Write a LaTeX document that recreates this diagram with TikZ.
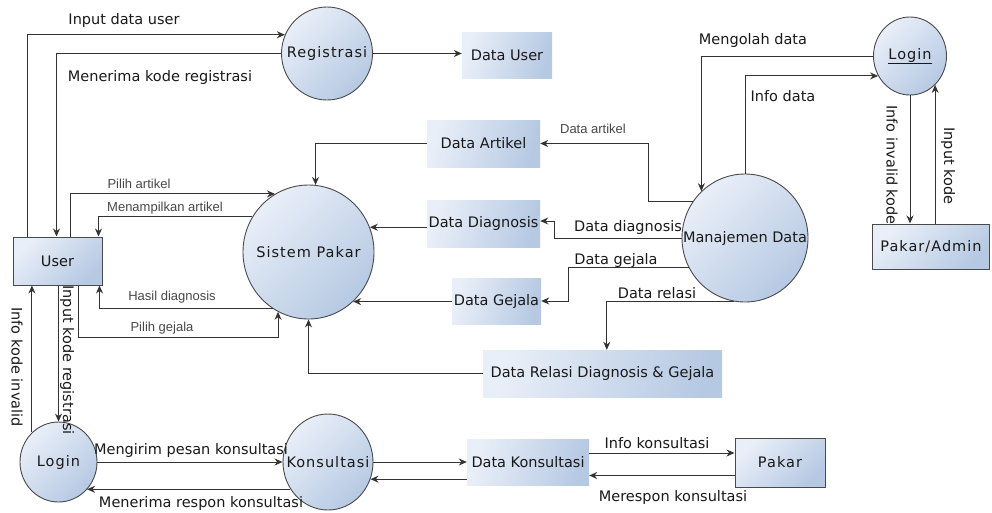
\documentclass[tikz,border=0pt]{standalone}
\usepackage{fontspec}
\setmainfont{DejaVu Sans}
\newfontfamily\spc[LetterSpace=7]{DejaVu Sans}
\newfontfamily\sml{Liberation Sans}
\usetikzlibrary{arrows.meta,shapes.geometric,calc}
\definecolor{lightc}{HTML}{E9EFF8}
\definecolor{darkc}{HTML}{B6C9E3}
\definecolor{linec}{HTML}{333333}
\definecolor{bordc}{HTML}{4A4A4A}
\begin{document}
\begin{tikzpicture}[x=1pt,y=-1pt,
  every node/.style={font=\fontsize{14.5}{17}\selectfont, text=black!90},
  proc/.style={ellipse, draw=bordc, line width=0.9pt, top color=lightc, bottom color=darkc, shading angle=45, inner sep=0pt},
  store/.style={rectangle, top color=lightc, bottom color=darkc, shading angle=75, inner sep=0pt},
  ent/.style={rectangle, draw=bordc, line width=1pt, top color=lightc, bottom color=darkc, shading angle=45, inner sep=0pt},
  lbl/.style={inner sep=0pt},
  slbl/.style={inner sep=0pt, font=\sml\fontsize{13}{15}\selectfont, text=black!72},
  flow/.style={draw=linec, line width=1pt, -{Stealth[length=8pt,width=7pt]}}
]
\useasboundingbox (0,0) rectangle (992,512);

% processes
\node[proc, minimum width=91pt, minimum height=93pt] (reg) at (327,53.5) {\makebox[0pt]{\spc Registrasi}};
\node[proc, minimum width=131pt, minimum height=134pt] (sp) at (308.5,252) {\makebox[0pt]{\spc Sistem Pakar}};
\node[proc, minimum width=126pt, minimum height=128pt] (md) at (745,238) {\makebox[0pt]{Manajemen Data}};
\node[proc, minimum width=73pt, minimum height=78pt] (lg2) at (910,56) {\makebox[0pt]{\spc\underline{Login}}};
\node[proc, minimum width=77pt, minimum height=80pt] (lg1) at (58.5,462) {\makebox[0pt]{\spc Login}};
\node[proc, minimum width=90pt, minimum height=96pt] (kons) at (328,462) {\makebox[0pt]{\spc Konsultasi}};

% data stores
\node[store, minimum width=90pt, minimum height=46pt] (duser) at (507,55) {Data User};
\node[store, minimum width=113pt, minimum height=47pt] (dart) at (483.5,143.5) {Data Artikel};
\node[store, minimum width=113pt, minimum height=47pt] (ddiag) at (483.5,223.5) {Data Diagnosis};
\node[store, minimum width=89pt, minimum height=46pt] (dgej) at (496.5,301) {Data Gejala};
\node[store, minimum width=239pt, minimum height=47pt] (drel) at (602.5,373.5) {Data Relasi Diagnosis \& Gejala};
\node[store, minimum width=122pt, minimum height=46pt] (dk) at (528,462) {Data Konsultasi};

% entities
\node[ent, minimum width=89pt, minimum height=48pt] (user) at (57.5,261) {User};
\node[ent, minimum width=117pt, minimum height=45pt] (pa) at (931,246.5) {\spc Pakar/Admin};
\node[ent, minimum width=90pt, minimum height=49pt] (pk) at (780,462.5) {\spc Pakar};

% flows: user <-> registrasi
\draw[flow] ([xshift=15pt]user.north west) |- (reg.156);
\draw[flow] (reg.west) -| ([xshift=44pt]user.north west);
\draw[flow] (reg.east) -- (reg.east -| duser.west);

% user <-> sistem pakar
\draw[flow] ([xshift=58pt]user.north west) |- (sp.120);
\draw[flow] (sp.148) -| ([xshift=86pt]user.north west);
\draw[flow] (sp.238) -| ([xshift=-3pt]user.south east);
\draw[flow] ([xshift=66pt]user.south west) -- ++(0,52) -| (sp.243);

% stores -> sistem pakar
\draw[flow] (dart.west) -| (sp.84);
\draw[flow] (sp.22 -| ddiag.west) -- (sp.22);
\draw[flow] (sp.312 -| dgej.west) -- (sp.312);
\draw[flow] (drel.west) -| (sp.south);

% manajemen data -> stores
\draw[flow] (md.145) -- ++(-44,0) |- (dart.east);
\draw[flow] (md.west) -- ++(-127,0) |- ([yshift=2.5pt]ddiag.east);
\draw[flow] (md.208) -- ++(-120,0) |- (dgej.east);
\draw[flow] (md.260) -| ([xshift=124pt]drel.north west);

% login admin
\draw[flow] (lg2.west) -| (md.133);
\draw[flow] (md.north) |- (lg2.212);
\draw[flow] (lg2.south) -- (lg2.south |- pa.north);
\draw[flow] (lg2.311 |- pa.north) -- (lg2.311);

% bottom
\draw[flow] (lg1.north |- user.south) -- (lg1.north);
\draw[flow] (lg1.132) -- (lg1.132 |- user.south);
\draw[flow] (lg1.east) -- (lg1.east -| kons.west);
\draw[flow] (kons.216) -- (kons.216 -| lg1.316);
\draw[flow] (kons.east) -- (kons.east -| dk.west);
\draw[flow] (kons.338 -| dk.west) -- (kons.338);
\draw[flow] ([yshift=9pt]dk.east) -- ([yshift=9pt]dk.east -| pk.west);
\draw[flow] ([yshift=-13pt]pk.west) -- ([yshift=-13pt]pk.west -| dk.east);

% labels
\node[lbl] (t1) at (124,20) {Input data user};
\node[lbl] (t2) at (160,77) {Menerima kode registrasi};
\node[slbl] (t3) at (139,184) {Pilih artikel};
\node[slbl] (t4) at (165,208) {Menampilkan artikel};
\node[slbl] (t5) at (172,297) {Hasil diagnosis};
\node[slbl] (t6) at (162,328) {Pilih gejala};
\node[slbl] (t7) at (593,129) {Data artikel};
\node[lbl] (t8) at (628,227) {Data diagnosis};
\node[lbl] (t9) at (616,260) {Data gejala};
\node[lbl] (t10) at (657,293) {Data relasi};
\node[lbl] (t11) at (753,40) {Mengolah data};
\node[lbl] (t12) at (783,96) {Info data};
\node[lbl, rotate=-90] (t13) at (892,165) {Info invalid kode};
\node[lbl, rotate=-90] (t14) at (948,166) {Input kode};
\node[lbl, rotate=-90] (t15) at (17,367) {Info kode invalid};
\node[lbl, rotate=-90] (t16) at (67,360) {Input kode registrasi};
\node[lbl] (t17) at (191,450) {Mengirim pesan konsultasi};
\node[lbl] (t18) at (201,503) {Menerima respon konsultasi};
\node[lbl] (t19) at (657,443) {Info konsultasi};
\node[lbl] (t20) at (673,497) {Merespon konsultasi};
\end{tikzpicture}
\end{document}
